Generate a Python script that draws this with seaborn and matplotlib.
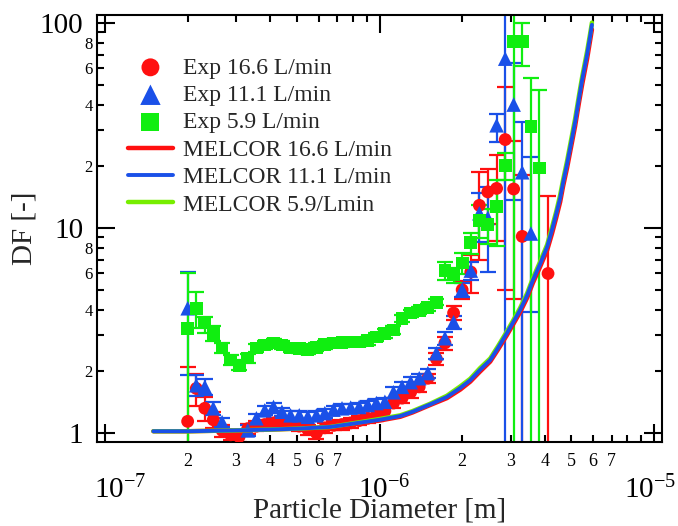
import numpy as np
import matplotlib
matplotlib.use("Agg")
import matplotlib.pyplot as plt
import matplotlib.transforms as mtransforms
import seaborn as sns
from matplotlib.ticker import FixedLocator, FuncFormatter

nan = np.nan

# ---------------- data ----------------
diameter_m = [2.00e-7, 2.15e-7, 2.31e-7, 2.48e-7, 2.67e-7, 2.87e-7, 3.08e-7, 3.31e-7, 3.56e-7, 3.82e-7,
              4.11e-7, 4.41e-7, 4.74e-7, 5.10e-7, 5.48e-7, 5.89e-7, 6.32e-7, 6.80e-7, 7.30e-7, 7.85e-7,
              8.43e-7, 9.06e-7, 9.74e-7, 1.046e-6, 1.124e-6, 1.208e-6, 1.298e-6, 1.395e-6, 1.500e-6, 1.611e-6,
              1.731e-6, 1.861e-6, 2.00e-6, 2.15e-6, 2.31e-6, 2.48e-6, 2.67e-6, 2.87e-6, 3.08e-6, 3.31e-6,
              3.56e-6, 3.82e-6, 4.11e-6]

exp_16_6_df = [1.14, 1.65, 1.32, 1.16, 1.03, 0.98, 0.96, 1.05, 1.08, 1.10,
               1.12, 1.13, 1.11, 1.08, 1.04, 1.00, 1.06, 1.09, 1.10, 1.12,
               1.15, 1.18, 1.22, 1.28, 1.40, 1.48, 1.58, 1.68, 1.85, 2.30,
               2.75, 3.85, 5.00, 6.10, 12.9, 15.0, 15.6, 27.0, 15.5, 9.10,
               nan, nan, 6.00]
exp_16_6_err_lo = [1.00, 0.30, 0.18, 0.10, 0.07, 0.06, 0.06, 0.06, 0.06, 0.06,
                   0.06, 0.06, 0.06, 0.06, 0.06, 0.06, 0.06, 0.06, 0.06, 0.06,
                   0.06, 0.06, 0.07, 0.08, 0.08, 0.08, 0.09, 0.10, 0.10, 0.15,
                   0.20, 0.30, 0.50, 1.30, 5.90, 4.50, 7.00, 22.0, 11.0, 9.00,
                   nan, nan, 5.90]
exp_16_6_err_hi = [0.96, 0.30, 0.18, 0.10, 0.07, 0.06, 0.06, 0.06, 0.06, 0.06,
                   0.06, 0.06, 0.06, 0.06, 0.06, 0.06, 0.06, 0.06, 0.06, 0.06,
                   0.06, 0.06, 0.07, 0.08, 0.08, 0.08, 0.09, 0.10, 0.10, 0.15,
                   0.20, 0.30, 0.50, 1.30, 5.90, 4.50, 7.00, 22.0, 11.0, 9.00,
                   nan, nan, 8.30]

exp_11_1_df = [4.06, 1.71, 1.68, 1.32, 1.13, nan, nan, 1.03, 1.18, 1.29,
               1.34, 1.27, 1.22, 1.22, 1.20, 1.22, 1.25, 1.30, 1.32, 1.33,
               1.34, 1.37, 1.40, 1.42, 1.58, 1.68, 1.77, 1.85, 1.96, 2.45,
               2.90, 3.47, 5.00, 6.20, 11.8, 11.2, 31.7, 67.0, 40.0, 18.7,
               9.40, nan, nan]
exp_11_1_err_lo = [2.14, 0.20, 0.15, 0.10, 0.06, nan, nan, 0.06, 0.06, 0.06,
                   0.06, 0.06, 0.06, 0.06, 0.06, 0.06, 0.06, 0.06, 0.06, 0.06,
                   0.06, 0.06, 0.06, 0.06, 0.10, 0.10, 0.10, 0.10, 0.10, 0.15,
                   0.20, 0.25, 0.40, 0.60, 3.30, 5.10, 5.40, 66.9, 26.3, 18.6,
                   5.50, nan, nan]
exp_11_1_err_hi = [2.04, 0.20, 0.15, 0.10, 0.06, nan, nan, 0.06, 0.06, 0.06,
                   0.06, 0.06, 0.06, 0.06, 0.06, 0.06, 0.06, 0.06, 0.06, 0.06,
                   0.06, 0.06, 0.06, 0.06, 0.10, 0.10, 0.10, 0.10, 0.10, 0.15,
                   0.20, 0.25, 0.40, 0.60, 3.00, 4.60, 4.30, 70.0, 23.6, 14.2,
                   12.8, nan, nan]

exp_5_9_df = [3.22, 4.06, 3.44, 3.07, 2.60, 2.27, 2.14, 2.32, 2.60, 2.69,
              2.75, 2.69, 2.60, 2.58, 2.55, 2.62, 2.70, 2.75, 2.76, 2.78,
              2.78, 2.82, 2.94, 3.05, 3.18, 3.63, 3.85, 3.95, 4.10, 4.35,
              6.20, 5.90, 6.75, 8.50, 10.9, 10.4, 12.7, 20.2, 81.0, 81.0,
              31.4, 19.6, nan]
exp_5_9_err_lo = [3.10, 0.80, 0.35, 0.25, 0.15, 0.12, 0.12, 0.12, 0.12, 0.12,
                  0.12, 0.12, 0.12, 0.12, 0.12, 0.12, 0.12, 0.12, 0.12, 0.12,
                  0.12, 0.12, 0.12, 0.15, 0.15, 0.15, 0.15, 0.15, 0.15, 0.15,
                  0.60, 0.50, 0.80, 1.00, 2.00, 2.00, 4.50, 3.00, 80.9, 19.0,
                  31.3, 19.5, nan]
exp_5_9_err_hi = [2.80, 0.80, 0.25, 0.25, 0.15, 0.12, 0.12, 0.12, 0.12, 0.12,
                  0.12, 0.12, 0.12, 0.12, 0.12, 0.12, 0.12, 0.12, 0.12, 0.12,
                  0.12, 0.12, 0.12, 0.15, 0.15, 0.15, 0.15, 0.15, 0.15, 0.15,
                  0.60, 0.50, 0.80, 1.00, 2.00, 2.00, 4.50, 3.00, 85.0, 19.0,
                  22.3, 27.4, nan]

melcor_diameter_m = [1.50e-7, 2.00e-7, 3.00e-7, 4.00e-7, 5.00e-7, 6.60e-7, 1.00e-6, 1.19e-6, 1.32e-6,
                     1.53e-6, 1.76e-6, 1.97e-6, 2.14e-6, 2.32e-6, 2.53e-6, 2.70e-6, 2.91e-6, 3.06e-6,
                     3.25e-6, 3.45e-6, 3.62e-6, 3.84e-6, 4.08e-6, 4.25e-6, 4.40e-6, 4.55e-6, 4.66e-6,
                     4.82e-6, 5.16e-6, 5.33e-6, 5.47e-6, 5.70e-6, 5.84e-6, 5.94e-6]
melcor_16_6_df = [1.02, 1.02, 1.03, 1.04, 1.05, 1.07, 1.15, 1.20, 1.26, 1.37, 1.48, 1.63, 1.78,
                  1.99, 2.23, 2.55, 3.00, 3.37, 3.88, 4.57, 5.40, 6.44, 7.80, 9.40, 11.2, 13.4,
                  15.9, 19.6, 31.5, 41.0, 50.0, 66.5, 81.0, 93.0]
melcor_11_1_df = [1.02, 1.02, 1.03, 1.04, 1.05, 1.07, 1.16, 1.21, 1.27, 1.38, 1.50, 1.66, 1.81,
                  2.03, 2.27, 2.60, 3.07, 3.45, 3.98, 4.70, 5.57, 6.65, 8.10, 9.80, 11.7, 14.0,
                  16.6, 20.5, 33.0, 43.0, 52.7, 70.0, 85.0, 98.0]
melcor_5_9_df = [1.02, 1.02, 1.03, 1.04, 1.05, 1.07, 1.17, 1.22, 1.28, 1.39, 1.52, 1.69, 1.84,
                 2.07, 2.31, 2.65, 3.13, 3.52, 4.07, 4.81, 5.70, 6.82, 8.30, 10.1, 12.0, 14.5,
                 17.1, 21.2, 34.2, 44.5, 54.5, 72.5, 87.5, 100.5]

x_minor_labels = ["2", "3", "4", "5", "6", "7"]
y_minor_labels = ["2", "4", "6", "8"]

RED = "#ff1010"
BLUE = "#1a50e8"
GREEN = "#10ee10"
LIME = "#77ee00"

# ---------------- style ----------------
sns.set_style("ticks")
plt.rcParams["font.family"] = ["Liberation Serif", "DejaVu Serif"]
plt.rcParams["mathtext.fontset"] = "custom"
plt.rcParams["mathtext.rm"] = "Liberation Serif"
plt.rcParams["mathtext.it"] = "Liberation Serif:italic"
plt.rcParams["axes.unicode_minus"] = False

W, H = 678, 526
fig = plt.figure(figsize=(W / 100, H / 100), dpi=100)
L, R, T, B = 97, 662, 15, 442
ax = fig.add_axes([L / W, 1 - B / H, (R - L) / W, (B - T) / H])
ax.set_xscale("log")
ax.set_yscale("log")

exp_series = [
    ("Exp 16.6 L/min", exp_16_6_df, exp_16_6_err_lo, exp_16_6_err_hi, RED, "o", 85),
    ("Exp 11.1 L/min", exp_11_1_df, exp_11_1_err_lo, exp_11_1_err_hi, BLUE, "^", 110),
    ("Exp 5.9 L/min", exp_5_9_df, exp_5_9_err_lo, exp_5_9_err_hi, GREEN, "s", 85),
]
for label, vals, lo, hi, color, marker, size in exp_series:
    ax.errorbar(diameter_m, vals, yerr=[lo, hi], fmt="none", ecolor=color,
                elinewidth=1.6, capsize=5.5, capthick=1.6, zorder=2)
    sns.scatterplot(x=diameter_m, y=vals, marker=marker, s=size, color=color,
                    edgecolor="none", linewidth=0, label=label, ax=ax, zorder=3)

melcor_series = [
    ("MELCOR 16.6 L/min", melcor_16_6_df, RED, 3.2),
    ("MELCOR 5.9/Lmin", melcor_5_9_df, LIME, 3.2),
    ("MELCOR 11.1 L/min", melcor_11_1_df, BLUE, 2.8),
]
for label, vals, color, lw in melcor_series:
    sns.lineplot(x=melcor_diameter_m, y=vals, color=color, lw=lw, label=label,
                 ax=ax, zorder=4, sort=False, estimator=None)

ax.set_xlim(9.35e-8, 1.069e-5)
ax.set_ylim(0.904, 109.4)

# ---------------- ticks ----------------
ax.xaxis.set_major_locator(FixedLocator([1e-7, 1e-6, 1e-5]))
ax.xaxis.set_major_formatter(FuncFormatter(lambda v, p: r"$10^{%d}$" % round(np.log10(v))))
ax.xaxis.set_minor_locator(FixedLocator([m * 10.0 ** e for e in (-8, -7, -6, -5) for m in range(2, 10)]))

def _mant(v):
    e = np.floor(np.log10(v) + 1e-9)
    return str(int(round(v / 10 ** e)))

ax.xaxis.set_minor_formatter(FuncFormatter(lambda v, p: _mant(v) if _mant(v) in x_minor_labels else ""))
ax.yaxis.set_major_locator(FixedLocator([1, 10, 100]))
ax.yaxis.set_major_formatter(FuncFormatter(lambda v, p: "%d" % round(v)))
ax.yaxis.set_minor_locator(FixedLocator([m * 10.0 ** e for e in (0, 1) for m in range(2, 10)]))
ax.yaxis.set_minor_formatter(FuncFormatter(lambda v, p: _mant(v) if _mant(v) in y_minor_labels else ""))

ax.tick_params(which="both", direction="in", top=True, right=True, width=1.5, color="black",
               labelcolor="black")
ax.tick_params(which="major", length=13)
ax.tick_params(which="minor", length=5)
ax.tick_params(axis="x", which="major", labelsize=21, pad=24)
ax.tick_params(axis="x", which="minor", labelsize=13, pad=8)
ax.tick_params(axis="y", which="major", labelsize=21, pad=10)
ax.tick_params(axis="y", which="minor", labelsize=12, pad=3)
for s in ax.spines.values():
    s.set_linewidth(1.5)
    s.set_color("black")

ax.set_xlabel("Particle Diameter [m]", fontsize=21)
ax.xaxis.set_label_coords((380 - L) / (R - L), (B - 511) / (B - T))
ax.xaxis.label.set_va("center")
ax.set_ylabel("DF [-]", fontsize=21)
ax.yaxis.set_label_coords((25 - L) / (R - L), 0.5)
ax.yaxis.label.set_va("center")

# ---------------- legend ----------------
order = ["Exp 16.6 L/min", "Exp 11.1 L/min", "Exp 5.9 L/min",
         "MELCOR 16.6 L/min", "MELCOR 11.1 L/min", "MELCOR 5.9/Lmin"]
handles, labels = ax.get_legend_handles_labels()
hmap = dict(zip(labels, handles))
leg = ax.legend([hmap[k] for k in order], order, loc="upper left",
                bbox_to_anchor=((128 - L) / (R - L), (B - 57) / (B - T)),
                frameon=False, fontsize=17, handlelength=1.9, handletextpad=0.45,
                labelspacing=0.25, borderpad=0, borderaxespad=0, markerscale=1.4)

# shift the decade labels slightly, as in the reference
fig.canvas.draw()
for tick, dx in zip(ax.xaxis.get_major_ticks(), [15, 5, -4]):
    lab = tick.label1
    lab.set_transform(lab.get_transform() + mtransforms.ScaledTranslation(dx / 100, 0, fig.dpi_scale_trans))

fig.savefig("out.png", dpi=100)
